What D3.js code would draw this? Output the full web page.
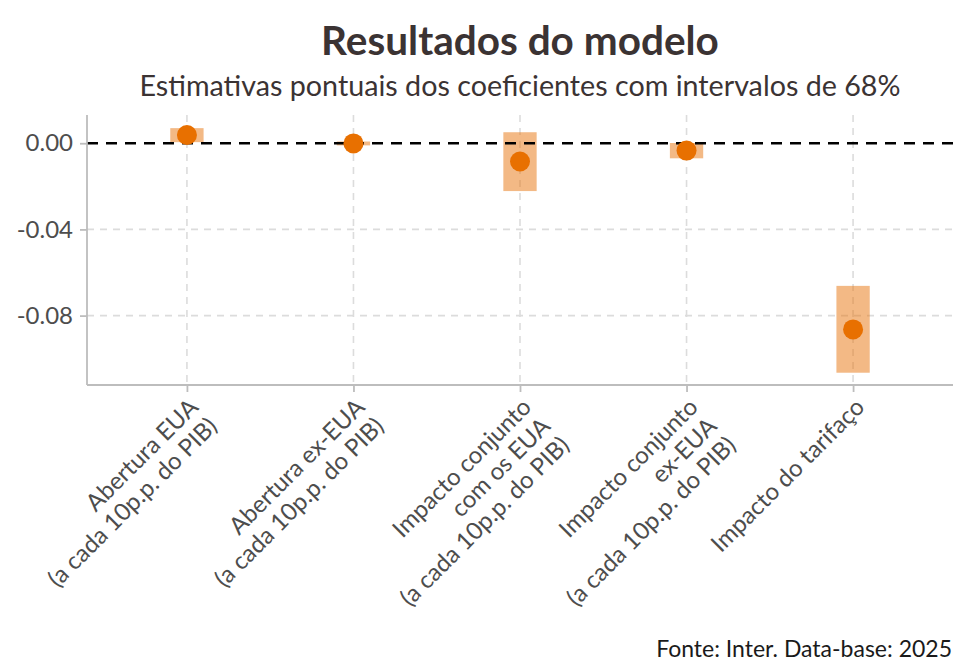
<!DOCTYPE html>
<html>
<head>
<meta charset="utf-8">
<script src="https://cdn.jsdelivr.net/npm/d3@7"></script>
<style>
  body { margin: 0; background: #fff; }
  svg { font-family: Lato, "Open Sans", sans-serif; }
</style>
</head>
<body>
<svg id="chart"></svg>
<script>
// data
var terms = [
  ["Abertura EUA", "(a cada 10p.p. do PIB)"],
  ["Abertura ex-EUA", "(a cada 10p.p. do PIB)"],
  ["Impacto conjunto", "com os EUA", "(a cada 10p.p. do PIB)"],
  ["Impacto conjunto", "ex-EUA", "(a cada 10p.p. do PIB)"],
  ["Impacto do tarifaço"]
];
var estimates = [0.0038, -0.0001, -0.0085, -0.0034, -0.0864];
var lower = [0.0005, -0.0010, -0.0222, -0.0070, -0.1065];
var upper = [0.0070, 0.0008, 0.0051, 0.0001, -0.0662];
var yTicks = [0, -0.04, -0.08];

var width = 970;
var height = 668;
var margin = {
    top: 115,
    right: 17,
    bottom: 283,
    left: 87
};
var innerWidth = width - margin.left - margin.right;
var innerHeight = height - margin.top - margin.bottom;

var svg = d3.select('#chart')
    .attr('width', width)
    .attr('height', height);

var g = svg.append('g')
    .attr('transform', `translate(${margin.left},${margin.top})`);

var x = d3.scalePoint()
    .domain(d3.range(terms.length))
    .range([0, innerWidth])
    .padding(0.6);

var y = d3.scaleLinear()
    .domain([0.0131, -0.1122])
    .range([0, innerHeight]);

var halfW = x.step() * 0.1;

// grid
g.selectAll('.hgrid').data(yTicks.filter(d => d != 0))
    .enter().append('line')
    .attr('x1', 0).attr('x2', innerWidth)
    .attr('y1', d => y(d)).attr('y2', d => y(d))
    .attr('stroke', '#dcdcdc')
    .attr('stroke-width', 1.6)
    .attr('stroke-dasharray', '7,6');

g.selectAll('.vgrid').data(d3.range(terms.length))
    .enter().append('line')
    .attr('x1', d => x(d)).attr('x2', d => x(d))
    .attr('y1', 0).attr('y2', innerHeight)
    .attr('stroke', '#dcdcdc')
    .attr('stroke-width', 1.6)
    .attr('stroke-dasharray', '7,6');

// intervals
g.selectAll('.ci').data(d3.range(terms.length))
    .enter().append('rect')
    .attr('x', d => x(d) - halfW)
    .attr('width', halfW * 2)
    .attr('y', d => y(upper[d]))
    .attr('height', d => y(lower[d]) - y(upper[d]))
    .attr('fill', '#e8740c')
    .attr('fill-opacity', 0.5);

// zero line
g.append('line')
    .attr('x1', 0).attr('x2', innerWidth)
    .attr('y1', y(0)).attr('y2', y(0))
    .attr('stroke', '#000')
    .attr('stroke-width', 2.4)
    .attr('stroke-dasharray', '11,8');

g.selectAll('.pt').data(d3.range(terms.length))
    .enter().append('circle')
    .attr('cx', d => x(d))
    .attr('cy', d => y(estimates[d]))
    .attr('r', 10)
    .attr('fill', '#e87000');

// axes
var yAxis = g.append('g')
    .call(d3.axisLeft(y).tickValues(yTicks).tickFormat(d3.format('.2f')).tickSize(7).tickPadding(7));
var xAxis = g.append('g')
    .attr('transform', `translate(0,${innerHeight})`)
    .call(d3.axisBottom(x).tickSize(7).tickFormat(''));

[yAxis, xAxis].forEach(a => {
    a.select('.domain').attr('stroke', '#bdbdbd').attr('stroke-width', 1.8);
    a.selectAll('.tick line').attr('stroke', '#bdbdbd').attr('stroke-width', 1.8);
});
xAxis.select('.domain').attr('d', `M0,0H${innerWidth}`);
yAxis.select('.domain').attr('d', `M0,0V${innerHeight}`);
yAxis.selectAll('.tick text')
    .attr('font-size', 24)
    .attr('fill', '#4d4d4d')
    .attr('font-family', 'Lato')
    .text(d => d == 0 ? '0.00' : d3.format('.2f')(d).replace('−', '-'));

// rotated labels
var labs = g.selectAll('.xlab').data(d3.range(terms.length))
    .enter().append('text')
    .attr('transform', d => `translate(${x(d)},${innerHeight + 11}) rotate(-45)`)
    .attr('text-anchor', 'end')
    .attr('font-size', 24)
    .attr('fill', '#4d4d4d');
labs.each(function (d) {
    var t = d3.select(this);
    terms[d].forEach((line, i) => {
        t.append('tspan')
            .attr('x', 0)
            .attr('dy', i == 0 ? '0.75em' : '1.12em')
            .text(line);
    });
});

// titles
svg.append('text')
    .attr('x', margin.left + innerWidth / 2)
    .attr('y', 55)
    .attr('text-anchor', 'middle')
    .attr('font-size', 40.5)
    .attr('font-weight', 'bold')
    .attr('fill', '#3b3333')
    .text('Resultados do modelo');

svg.append('text')
    .attr('x', margin.left + innerWidth / 2)
    .attr('y', 96)
    .attr('text-anchor', 'middle')
    .attr('font-size', 28.7)
    .attr('fill', '#3b3333')
    .text('Estimativas pontuais dos coeficientes com intervalos de 68%');

svg.append('text')
    .attr('x', 952)
    .attr('y', 657)
    .attr('text-anchor', 'end')
    .attr('font-size', 23)
    .attr('fill', '#1a1a1a')
    .text('Fonte: Inter. Data-base: 2025');
</script>
</body>
</html>
